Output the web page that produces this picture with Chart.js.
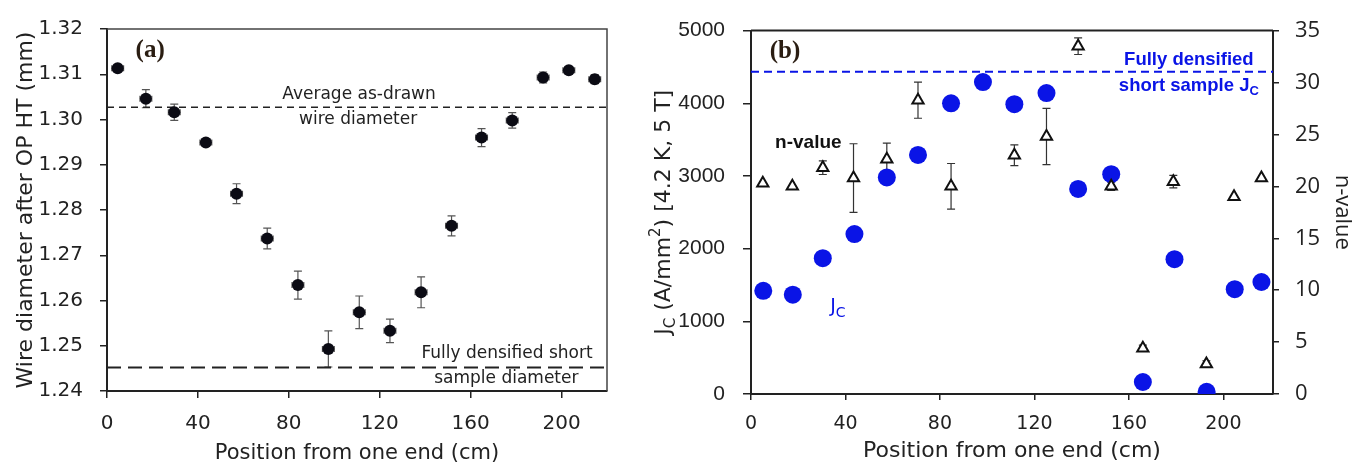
<!DOCTYPE html>
<html>
<head>
<meta charset="utf-8">
<script src="https://cdn.jsdelivr.net/npm/chart.js@4.4.0/dist/chart.umd.min.js"></script>
<style>
body{margin:0;background:#fff;width:1362px;height:472px;overflow:hidden;position:relative}
#c1{position:absolute;left:0;top:0}
#c2{position:absolute;left:630px;top:0}
</style>
</head>
<body>
<canvas id="c1" width="630" height="472"></canvas>
<canvas id="c2" width="732" height="472"></canvas>
<script>
// (a) wire diameter after OP HT
var diaPos = [4.7,17.1,29.6,43.5,57,70.5,84,97.4,111,124.5,138.2,151.6,164.8,178.3,191.9,203.2,214.6];
var diaVal = [1.3113,1.3046,1.3016,1.2949,1.2836,1.2737,1.2634,1.2493,1.2574,1.2533,1.2618,1.2765,1.2960,1.2998,1.3093,1.3109,1.3089];
var diaErr = [0.0006,0.0020,0.0018,0.0007,0.0022,0.0023,0.0031,0.0040,0.0036,0.0026,0.0034,0.0022,0.0020,0.0017,0.0012,0.0008,0.0010];
var diaPosErr = [2.6,2.6,2.6,2.6,2.6,2.6,2.6,2.6,2.6,2.6,2.6,2.6,2.6,2.6,2.6,2.6,2.6];
var avgDia = 1.3027;
var denseDia = 1.2452;

// (b) Jc and n-value
var jcPos = [5.2,17.7,30.4,43.8,57.5,70.7,84.7,98.2,111.5,125.1,138.5,152.5,165.9,179.3,192.9,204.8,216.1];
var jcVal = [1420,1367,1868,2200,2980,3289,4000,4292,3988,4140,2822,3024,165,1855,31,1442,1541];
var nPos = [5.0,17.5,30.4,43.4,57.5,70.7,84.7,111.5,125.1,138.5,152.5,165.9,178.8,192.8,204.5,216.1];
var nVal = [20.3,20.0,21.8,20.8,22.6,28.3,20.0,23.0,24.8,33.5,20.0,4.4,20.45,2.9,19.0,20.8];
var nErr = [0,0,0.66,3.3,1.57,1.74,2.2,1.0,2.7,0.8,0.4,0.3,0.6,0.3,0,0];
var denseJc = 4435;

var xTicks = [0,40,80,120,160,200];
var diaTicks = [1.24,1.25,1.26,1.27,1.28,1.29,1.30,1.31,1.32];
var jcTicks = [0,1000,2000,3000,4000,5000];
var nTicks = [0,5,10,15,20,25,30,35];

var AX = '#222';
var BLUE = '#0a14e6';

function pts(xs, ys){ return xs.map(function(x,i){ return {x:x, y:ys[i]}; }); }
function setTicks(arr){ return function(s){ s.ticks = arr.map(function(v){ return {value:v}; }); }; }

var errorBars = {
  id:'errorBars',
  beforeDatasetsDraw:function(chart){
    var ctx = chart.ctx;
    chart.data.datasets.forEach(function(ds){
      if(!ds.errY) return;
      var xs = chart.scales.x, ys = chart.scales[ds.yAxisID || 'y'];
      ctx.save();
      ctx.strokeStyle = ds.errColor || '#444';
      ctx.lineWidth = 1.2;
      ds.data.forEach(function(p,j){
        var px = xs.getPixelForValue(p.x), py = ys.getPixelForValue(p.y);
        var e = ds.errY[j];
        ctx.beginPath();
        if(e){
          var t = ys.getPixelForValue(p.y + e), b = ys.getPixelForValue(p.y - e);
          ctx.moveTo(px,t); ctx.lineTo(px,b);
          ctx.moveTo(px-4,t); ctx.lineTo(px+4,t);
          ctx.moveTo(px-4,b); ctx.lineTo(px+4,b);
        }
        if(ds.errX){
          var l = xs.getPixelForValue(p.x - ds.errX[j]), r = xs.getPixelForValue(p.x + ds.errX[j]);
          ctx.moveTo(l,py); ctx.lineTo(r,py);
          ctx.moveTo(l,py-3); ctx.lineTo(l,py+3);
          ctx.moveTo(r,py-3); ctx.lineTo(r,py+3);
        }
        ctx.stroke();
      });
      ctx.restore();
    });
  }
};

function txt(ctx, s, x, y, font, color, align){
  ctx.save();
  ctx.font = font; ctx.fillStyle = color;
  ctx.textAlign = align || 'center'; ctx.textBaseline = 'middle';
  ctx.fillText(s, x, y);
  ctx.restore();
}

// pieces: [text, font, dy]
function rich(ctx, pieces, x, y, color, align){
  ctx.save();
  ctx.fillStyle = color; ctx.textBaseline = 'middle'; ctx.textAlign = 'left';
  var w = 0;
  pieces.forEach(function(p){ ctx.font = p[1]; w += ctx.measureText(p[0]).width; });
  var cx = align === 'right' ? x - w : (align === 'left' ? x : x - w/2);
  pieces.forEach(function(p){ ctx.font = p[1]; ctx.fillText(p[0], cx, y + p[2]); cx += ctx.measureText(p[0]).width; });
  ctx.restore();
}

var frameA = {
  id:'frameA',
  afterDraw:function(chart){
    var ctx = chart.ctx, a = chart.chartArea, xs = chart.scales.x, ys = chart.scales.y;
    ctx.save();
    ctx.strokeStyle = '#444'; ctx.lineWidth = 1.5;
    ctx.beginPath();
    ctx.moveTo(a.left, a.top); ctx.lineTo(a.right, a.top); ctx.lineTo(a.right, a.bottom);
    ctx.stroke();
    ctx.restore();
    var f = '17px "DejaVu Sans"';
    txt(ctx, 'Average as-drawn', xs.getPixelForValue(110.9), ys.getPixelForValue(1.3054), f, AX);
    txt(ctx, 'wire diameter', xs.getPixelForValue(110.5), ys.getPixelForValue(1.2999), f, AX);
    txt(ctx, 'Fully densified short', xs.getPixelForValue(176), ys.getPixelForValue(1.2482), f, AX);
    txt(ctx, 'sample diameter', xs.getPixelForValue(175.7), ys.getPixelForValue(1.2427), f, AX);
    txt(ctx, '(a)', xs.getPixelForValue(19), ys.getPixelForValue(1.3152), 'bold 25px "Liberation Serif"', '#2a1d12');
  }
};

var frameB = {
  id:'frameB',
  afterDraw:function(chart){
    var ctx = chart.ctx, a = chart.chartArea, xs = chart.scales.x, ys = chart.scales.y;
    ctx.save();
    ctx.strokeStyle = AX; ctx.lineWidth = 2;
    ctx.beginPath(); ctx.moveTo(a.left, a.top); ctx.lineTo(a.right, a.top); ctx.stroke();
    ctx.restore();
    txt(ctx, '(b)', xs.getPixelForValue(14.4), ys.getPixelForValue(4718), 'bold 25px "Liberation Serif"', '#2a1d12');
    txt(ctx, 'Fully densified', xs.getPixelForValue(212.8), ys.getPixelForValue(4600), 'bold 18.5px "Liberation Sans"', BLUE, 'right');
    rich(ctx, [['short sample J','bold 18.5px "Liberation Sans"',0],['C','bold 13px "Liberation Sans"',5]],
      xs.getPixelForValue(215), ys.getPixelForValue(4234), BLUE, 'right');
    txt(ctx, 'n-value', xs.getPixelForValue(10.2), ys.getPixelForValue(3458), 'bold 19px "Liberation Sans"', '#111', 'left');
    rich(ctx, [['J','19px "DejaVu Sans"',0],['C','14px "DejaVu Sans"',6]],
      xs.getPixelForValue(33.5), ys.getPixelForValue(1196), BLUE, 'left');
    // left axis title with sub/superscript
    ctx.save();
    ctx.translate(a.left - 87, (a.top + a.bottom)/2);
    ctx.rotate(-Math.PI/2);
    rich(ctx, [['J','22px "DejaVu Sans"',0],['C','15px "DejaVu Sans"',7],[' (A/mm','22px "DejaVu Sans"',0],
      ['2','15px "DejaVu Sans"',-8],[') [4.2 K, 5 T]','22px "DejaVu Sans"',0]], 0, 0, AX, 'center');
    ctx.restore();
  }
};

new Chart(document.getElementById('c1'), {
  type:'scatter',
  data:{datasets:[
    {data:pts(diaPos, diaVal), errY:diaErr, errX:diaPosErr, errColor:'#555',
     pointRadius:6, pointBackgroundColor:'#0b0b14', pointBorderColor:'#0b0b14', pointBorderWidth:0},
    {type:'line', data:[{x:0,y:avgDia},{x:220,y:avgDia}], borderColor:AX, borderWidth:1.5,
     borderDash:[7,5], pointRadius:0, showLine:true},
    {type:'line', data:[{x:0,y:denseDia},{x:220,y:denseDia}], borderColor:AX, borderWidth:2,
     borderDash:[14,7], pointRadius:0, showLine:true}
  ]},
  options:{
    responsive:false, animation:false, devicePixelRatio:1,
    layout:{padding:{top:21, right:23, left:0, bottom:0}},
    plugins:{legend:{display:false}, tooltip:{enabled:false}},
    scales:{
      x:{type:'linear', min:0, max:220,
        afterFit:function(s){ s.height = 81; },
        afterBuildTicks:setTicks(xTicks),
        grid:{drawOnChartArea:false, tickLength:7, color:AX, lineWidth:1.5},
        border:{color:AX, width:2},
        ticks:{font:{family:'DejaVu Sans', size:20}, color:AX, padding:14},
        title:{display:true, text:'Position from one end (cm)', color:AX,
          font:{family:'DejaVu Sans', size:21}, padding:{top:0, bottom:6}}
      },
      y:{min:1.24, max:1.32,
        afterFit:function(s){ s.width = 107; },
        afterBuildTicks:setTicks(diaTicks),
        grid:{drawOnChartArea:false, tickLength:7, color:AX, lineWidth:1.5},
        border:{color:AX, width:2},
        ticks:{font:{family:'DejaVu Sans', size:20}, color:AX, padding:17,
          callback:function(v){ return v.toFixed(2); }},
        title:{display:true, text:'Wire diameter after OP HT (mm)', color:AX,
          font:{family:'DejaVu Sans', size:22}, padding:{top:13, bottom:0}}
      }
    }
  },
  plugins:[errorBars, frameA]
});

new Chart(document.getElementById('c2'), {
  type:'scatter',
  data:{datasets:[
    {data:pts(nPos, nVal), yAxisID:'y2', errY:nErr, errColor:'#333',
     pointStyle:'triangle', pointRadius:6.5, pointBackgroundColor:'#fff', pointBorderColor:'#111', pointBorderWidth:2},
    {data:pts(jcPos, jcVal), pointRadius:9, pointBackgroundColor:BLUE, pointBorderColor:BLUE, pointBorderWidth:0},
    {type:'line', data:[{x:0,y:denseJc},{x:221,y:denseJc}], borderColor:BLUE, borderWidth:2,
     borderDash:[8,5], pointRadius:0, showLine:true}
  ]},
  options:{
    responsive:false, animation:false, devicePixelRatio:1,
    layout:{padding:{top:22, right:0, left:0, bottom:0}},
    plugins:{legend:{display:false}, tooltip:{enabled:false}},
    scales:{
      x:{type:'linear', min:0, max:221,
        afterFit:function(s){ s.height = 78; },
        afterBuildTicks:setTicks(xTicks),
        grid:{drawOnChartArea:false, tickLength:6, color:AX, lineWidth:1.5},
        border:{color:AX, width:2},
        ticks:{font:{family:'DejaVu Sans', size:19}, color:AX, padding:13},
        title:{display:true, text:'Position from one end (cm)', color:AX,
          font:{family:'DejaVu Sans', size:22}, padding:{top:0, bottom:8}}
      },
      y:{position:'left', min:0, max:5000,
        afterFit:function(s){ s.width = 121; },
        afterBuildTicks:setTicks(jcTicks),
        grid:{drawOnChartArea:false, tickLength:8, color:AX, lineWidth:1.5},
        border:{color:AX, width:2},
        ticks:{font:{family:'Liberation Sans', size:21}, color:AX, padding:18,
          callback:function(v){ return String(v); }}
      },
      y2:{position:'right', min:0, max:35,
        afterFit:function(s){ s.width = 89; },
        afterBuildTicks:setTicks(nTicks),
        grid:{drawOnChartArea:false, tickLength:6, color:AX, lineWidth:1.5},
        border:{color:AX, width:2},
        ticks:{font:{family:'Open Sans', size:22}, color:AX, padding:16},
        title:{display:true, text:'n-value', color:AX,
          font:{family:'Open Sans', size:22}, padding:{top:7, bottom:0}}
      }
    }
  },
  plugins:[errorBars, frameB]
});
</script>
</body>
</html>
